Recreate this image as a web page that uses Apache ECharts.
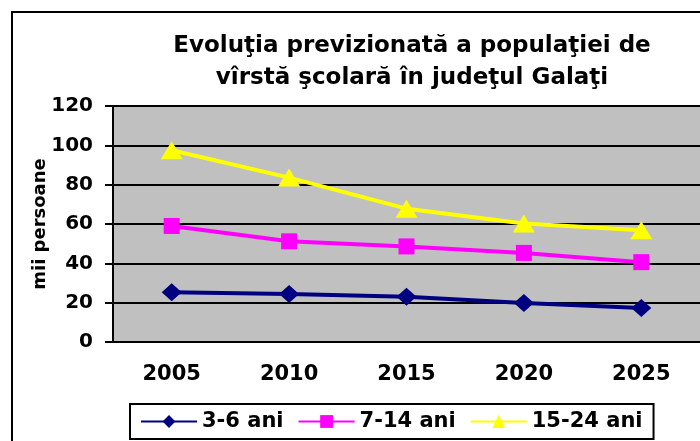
<!DOCTYPE html>
<html>
<head>
<meta charset="utf-8">
<script src="https://cdn.jsdelivr.net/npm/echarts@6/dist/echarts.min.js"></script>
<style>
  html, body { margin: 0; padding: 0; background: #fff; }
  #chart { width: 700px; height: 441px; }
</style>
</head>
<body>
<div id="chart"></div>
<script>
// data (thousands of persons)
var years = ['2005', '2010', '2015', '2020', '2025'];
var age3to6 = [25.3, 24.4, 23.0, 19.8, 17.3];
var age7to14 = [59.0, 51.2, 48.6, 45.3, 40.6];
var age15to24 = [97.5, 83.6, 67.8, 60.3, 56.8];

// the original uses a wide bold face, DejaVu Sans Bold comes closest
var font = 'DejaVu Sans, sans-serif';

var chart = echarts.init(document.getElementById('chart'));

chart.setOption({
  backgroundColor: '#fff',
  animation: false,
  title: {
    text: 'Evoluţia previzionată a populaţiei de\nvîrstă şcolară în judeţul Galaţi',
    left: 407,
    top: 25,
    textAlign: 'center',
    textStyle: {
      fontFamily: font,
      fontSize: 23,
      fontWeight: 'bold',
      color: '#000',
      lineHeight: 32,
    },
  },
  graphic: [{
    type: 'rect',
    shape: { x: 12, y: 12, width: 720, height: 460 },
    style: { fill: 'none', stroke: '#000', lineWidth: 2 },
    z: 100,
  }],
  grid: {
    left: 113,
    top: 106,
    right: -6,
    bottom: 99,
    show: true,
    backgroundColor: '#c0c0c0',
    borderWidth: 0,
  },
  legend: {
    left: 130,
    top: 404,
    itemWidth: 56,
    itemHeight: 16,
    itemGap: 14,
    padding: [7, 11, 7, 10],
    borderColor: '#000',
    borderWidth: 2,
    backgroundColor: '#fff',
    textStyle: {
      fontFamily: font,
      fontSize: 21,
      fontWeight: 'bold',
      color: '#000',
    },
  },
  xAxis: {
    type: 'category',
    data: years,
    boundaryGap: true,
    axisLine: { lineStyle: { color: '#000', width: 2 } },
    axisTick: { length: 8, lineStyle: { color: '#000', width: 2 } },
    axisLabel: {
      margin: 22,
      fontFamily: font,
      fontSize: 21,
      fontWeight: 'bold',
      color: '#000',
    },
  },
  yAxis: {
    type: 'value',
    min: 0,
    max: 120,
    interval: 20,
    name: 'mii persoane',
    nameLocation: 'middle',
    nameGap: 64,
    nameMoveOverlap: false,
    nameRotate: 90,
    nameTextStyle: {
      fontFamily: font,
      fontSize: 18,
      fontWeight: 'bold',
      color: '#000',
    },
    axisLine: { show: true, lineStyle: { color: '#000', width: 2 } },
    axisTick: { show: true, length: 8, lineStyle: { color: '#000', width: 2 } },
    axisLabel: {
      margin: 20,
      fontFamily: font,
      fontSize: 20,
      fontWeight: 'bold',
      color: '#000',
    },
    splitLine: { lineStyle: { color: '#000', width: 2 } },
  },
  series: [
    {
      name: '3-6 ani',
      type: 'line',
      data: age3to6,
      symbol: 'diamond',
      symbolSize: [20, 18],
      color: '#000080',
      lineStyle: { color: '#000080', width: 4 },
      itemStyle: { color: '#000080' },
    },
    {
      name: '7-14 ani',
      type: 'line',
      data: age7to14,
      symbol: 'rect',
      symbolSize: 16,
      color: '#ff00ff',
      lineStyle: { color: '#ff00ff', width: 4 },
      itemStyle: { color: '#ff00ff' },
    },
    {
      name: '15-24 ani',
      type: 'line',
      data: age15to24,
      symbol: 'triangle',
      symbolSize: [22, 18],
      color: '#ffff00',
      lineStyle: { color: '#ffff00', width: 4 },
      itemStyle: { color: '#ffff00' },
    },
  ],
});
</script>
</body>
</html>
